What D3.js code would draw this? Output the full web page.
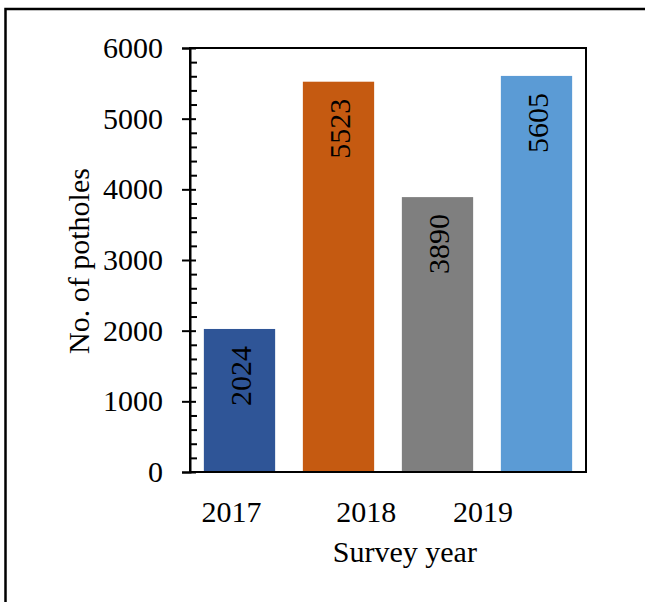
<!DOCTYPE html>
<html>
<head>
<meta charset="utf-8">
<script src="https://d3js.org/d3.v7.min.js"></script>
<style>
  body { margin: 0; background: #fff; }
  svg text { font-family: "Liberation Serif", "Times New Roman", serif !important; fill: #000; }
</style>
</head>
<body>
<svg width="645" height="602"></svg>
<script>
var years = ["2017a", "2017b", "2018", "2019"];
var potholes = [2024, 5523, 3890, 5605];
var barColors = ["#2F5597", "#C55A11", "#7F7F7F", "#5B9BD5"];

// x labels sit where the original text boxes were, in bar-slot units
var tickLabels = ["2017", "2018", "2019"];
var tickSlots = [0.42, 1.78, 2.96];
var yTicks = [0, 1000, 2000, 3000, 4000, 5000, 6000];

var serif = "'Liberation Serif', 'Times New Roman', serif";

var svg = d3.select("svg"),
    width = +svg.attr("width"),
    height = +svg.attr("height");

var plot = { left: 190, right: 586, top: 48, bottom: 472 };

// outer frame (runs off the right and bottom of the picture)
svg.append("rect")
    .attr("x", 5.5).attr("y", 9)
    .attr("width", width + 20).attr("height", height + 20)
    .attr("fill", "none")
    .attr("stroke", "#000")
    .attr("stroke-width", 2.5);

var x = d3.scaleBand()
    .domain(years)
    .range([plot.left, plot.right])
    .paddingInner(0.28)
    .paddingOuter(0.14);

var slot = d3.scaleLinear()
    .domain([0, years.length])
    .range([plot.left, plot.right]);

var y = d3.scaleLinear()
    .domain([0, 6000])
    .range([plot.bottom, plot.top]);

// bars
svg.append("g")
  .selectAll("rect")
  .data(potholes)
  .enter().append("rect")
    .attr("x", function(d, i) { return x(years[i]); })
    .attr("y", function(d) { return y(d); })
    .attr("width", x.bandwidth())
    .attr("height", function(d) { return y(0) - y(d); })
    .attr("fill", function(d, i) { return barColors[i]; });

// values written up the bars, near the top
svg.append("g")
  .selectAll("text")
  .data(potholes)
  .enter().append("text")
    .attr("transform", function(d, i) {
      return "translate(" + (x(years[i]) + x.bandwidth() / 2 + 1) + "," + (y(d) + 17) + ") rotate(-90)";
    })
    .attr("dy", "0.35em")
    .attr("text-anchor", "end")
    .style("font-family", serif)
    .style("font-size", "30px")
    .text(function(d) { return d; });

// plot frame
svg.append("rect")
    .attr("x", plot.left).attr("y", plot.top)
    .attr("width", plot.right - plot.left)
    .attr("height", plot.bottom - plot.top)
    .attr("fill", "none")
    .attr("stroke", "#000")
    .attr("stroke-width", 2);

// y axis, major ticks cross the line, minor ones point inward
var yAxis = svg.append("g")
    .attr("transform", "translate(" + plot.left + ",0)")
    .call(d3.axisLeft(y).tickValues(yTicks).tickFormat(d3.format("d")).tickSize(8).tickPadding(19));
yAxis.select(".domain").attr("stroke-width", 2);
yAxis.selectAll(".tick line").attr("x1", 6).attr("stroke-width", 2);
yAxis.selectAll(".tick text")
    .style("font-family", serif)
    .style("font-size", "30px")
    .attr("fill", "#000");

var minor = d3.range(0, 6001, 200).filter(function(v) { return v % 1000 !== 0; });
var yMinor = svg.append("g")
    .attr("transform", "translate(" + plot.left + ",0)")
    .call(d3.axisRight(y).tickValues(minor).tickSize(7).tickFormat(""));
yMinor.select(".domain").remove();
yMinor.selectAll(".tick line").attr("stroke-width", 2);

// x labels
svg.append("g")
  .selectAll("text")
  .data(tickLabels)
  .enter().append("text")
    .attr("x", function(d, i) { return slot(tickSlots[i]); })
    .attr("y", 522)
    .attr("text-anchor", "middle")
    .style("font-family", serif)
    .style("font-size", "30px")
    .text(function(d) { return d; });

svg.append("text")
    .attr("x", slot(2.17))
    .attr("y", 562)
    .attr("text-anchor", "middle")
    .style("font-family", serif)
    .style("font-size", "30px")
    .text("Survey year");

svg.append("text")
    .attr("transform", "translate(89," + ((plot.top + plot.bottom) / 2 + 1) + ") rotate(-90)")
    .attr("text-anchor", "middle")
    .style("font-family", serif)
    .style("font-size", "30px")
    .text("No. of potholes");
</script>
</body>
</html>
